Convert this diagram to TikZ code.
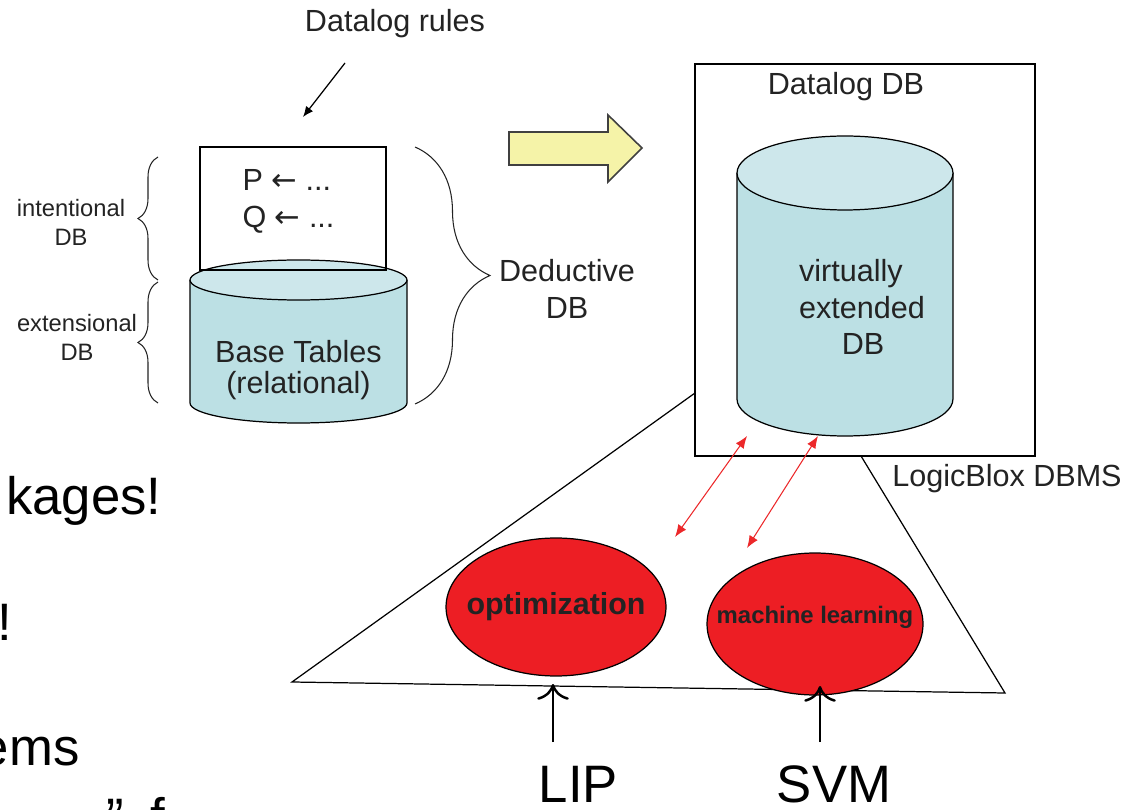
\documentclass[tikz,border=0pt]{standalone}
\usepackage{fontspec}
\setmainfont{Liberation Sans}
\newfontfamily\arrowfont{DejaVu Sans}
\usepackage{xcolor}
\usetikzlibrary{positioning, calc, arrows.meta, shapes.geometric, decorations.pathreplacing}

\definecolor{cylbody}{RGB}{188,224,228}
\definecolor{cyltop}{RGB}{205,231,235}
\definecolor{blockyellow}{RGB}{245,243,168}
\definecolor{algored}{RGB}{237,30,36}
\definecolor{linkred}{RGB}{236,40,42}
\definecolor{inkgray}{RGB}{35,35,35}

\begin{document}
\begin{tikzpicture}[x=0.02cm, y=-0.02cm, line width=0.7pt,
    txt/.style={font=\fontsize{17.4}{21}\selectfont, text=inkgray, inner sep=0pt, align=center},
    smalltxt/.style={font=\fontsize{13.5}{16.5}\selectfont, text=inkgray, inner sep=0pt, align=center},
    hugetxt/.style={font=\fontsize{30}{36}\selectfont, text=black, inner sep=0pt},
    algo/.style={ellipse, draw=black, fill=algored, inner sep=0pt},
    algotxt/.style={text=inkgray, inner sep=0pt},
    curly/.style={decorate, draw=inkgray, line width=0.6pt},
    link/.style={draw=linkred, line width=0.6pt, {Latex[length=7pt,width=5.5pt]}-{Latex[length=7pt,width=5.5pt]}},
    feed/.style={draw=black, line width=1.4pt, -{To[length=9pt,width=18pt]}}
]
    \useasboundingbox (0,0) rectangle (1129,810);
    \clip (0,0) rectangle (1129,810);

    % 1. Base tables cylinder (extensional part)
    \fill[cylbody] (190,280) rectangle (407,403);
    \fill[cylbody] (298.5,403) ellipse [x radius=2.17cm, y radius=0.4cm];
    \draw (190,280) -- (190,403) arc[start angle=180, end angle=360, x radius=2.17cm, y radius=0.4cm] -- (407,280);
    \draw[fill=cyltop] (298.5,280) ellipse [x radius=2.17cm, y radius=0.4cm];
    \node[txt, font=\fontsize{17.4}{17.2}\selectfont] (basetab) at (298.5,370) {Base Tables\\(relational)};

    % 2. Rules box sitting on the cylinder, and its caption
    \node[draw, minimum width=3.72cm, minimum height=2.46cm, inner sep=0pt] (rules) at (293,208.5) {};
    \node[txt, align=left, anchor=west] (ruletxt) at (242,201) {P {\arrowfont ←} ...\\Q {\arrowfont ←} ...};
    \node[txt] (rulecap) at (395,24) {Datalog rules};
    \coordinate (capfoot) at (345,63);
    \draw[-{Latex[length=6pt,width=5pt]}] (capfoot) -- (303,117);

    % 3. Braces and their labels
    \draw[curly, decoration={brace, amplitude=0.4cm}] (158,280) -- (158,157);
    \draw[curly, decoration={brace, amplitude=0.4cm}] (158,403) -- (158,282);
    \draw[curly, decoration={brace, amplitude=1.5cm}] (415,147) -- (415,404);
    \node[smalltxt] (intdb) at (71,222) {intentional\\DB};
    \node[smalltxt] (extdb) at (77,337) {extensional\\DB};
    \node[txt] (deddb) at (567,289) {Deductive\\DB};

    % 4. Yellow block arrow
    \draw[fill=blockyellow, draw=black!75, line width=0.9pt]
        (509,132) -- (608,132) -- (608,115) -- (642,148) -- (608,182) -- (608,165) -- (509,165) -- cycle;

    % 5. Datalog DB box with the virtual cylinder
    \node[draw, minimum width=6.8cm, minimum height=7.84cm, inner sep=0pt] (dlbox) at (865,260) {};
    \node[txt] (dltitle) at (846,87) {Datalog DB};
    \fill[cylbody] (737,173) rectangle (953,399);
    \fill[cylbody] (845,399) ellipse [x radius=2.16cm, y radius=0.74cm];
    \draw (737,173) -- (737,399) arc[start angle=180, end angle=360, x radius=2.16cm, y radius=0.74cm] -- (953,173);
    \draw[fill=cyltop] (845,173) ellipse [x radius=2.16cm, y radius=0.74cm];
    \node[txt, align=left] (vdb) at (862,307) {virtually\\extended\\\hspace*{1.4em}DB};
    \node[txt] (dbms) at (1007,479) {LogicBlox DBMS};

    % 6. Triangle of solvers under the box
    \coordinate (triL) at (292,682);
    \coordinate (triR) at (1005,693);
    \draw (695,393) -- (triL) -- (triR) -- (861,456);

    % 7. Solver ellipses
    \node[algo, minimum width=4.4cm, minimum height=2.76cm] (opt) at (556,607) {};
    \node[algotxt, font=\bfseries\fontsize{17.3}{20}\selectfont] (opttxt) at (opt.center) {optimization};
    \node[algo, minimum width=4.32cm, minimum height=2.84cm] (ml) at (815,624) {};
    \node[algotxt, font=\bfseries\fontsize{13.6}{16}\selectfont] (mltxt) at ([yshift=0.14cm]ml.center) {machine learning};

    % 8. Red links between solvers and the DB
    \coordinate (optend) at (675,537);
    \coordinate (mlend) at (747,548);
    \coordinate (dbend1) at (747,436);
    \coordinate (dbend2) at (818,436);
    \draw[link] (optend) -- (dbend1);
    \draw[link] (mlend) -- (dbend2);

    % 9. Inputs from below
    \node[hugetxt] (lip) at (578.5,784) {LIP};
    \node[hugetxt] (svm) at (834,784) {SVM};
    \draw[feed] (553,742) -- (553,684);
    \draw[feed] (820,742) -- (820,686);

    % 10. Cut-off slide text on the left
    \node[hugetxt, anchor=base east] (pkg) at (162,515) {kages!};
    \node[hugetxt, anchor=base east] (bang) at (13,640) {!};
    \node[hugetxt, anchor=base east] (ems) at (80,765) {ems};
    \node[hugetxt, anchor=base west] (quote) at (106,835) {"\enspace f};
\end{tikzpicture}
\end{document}
